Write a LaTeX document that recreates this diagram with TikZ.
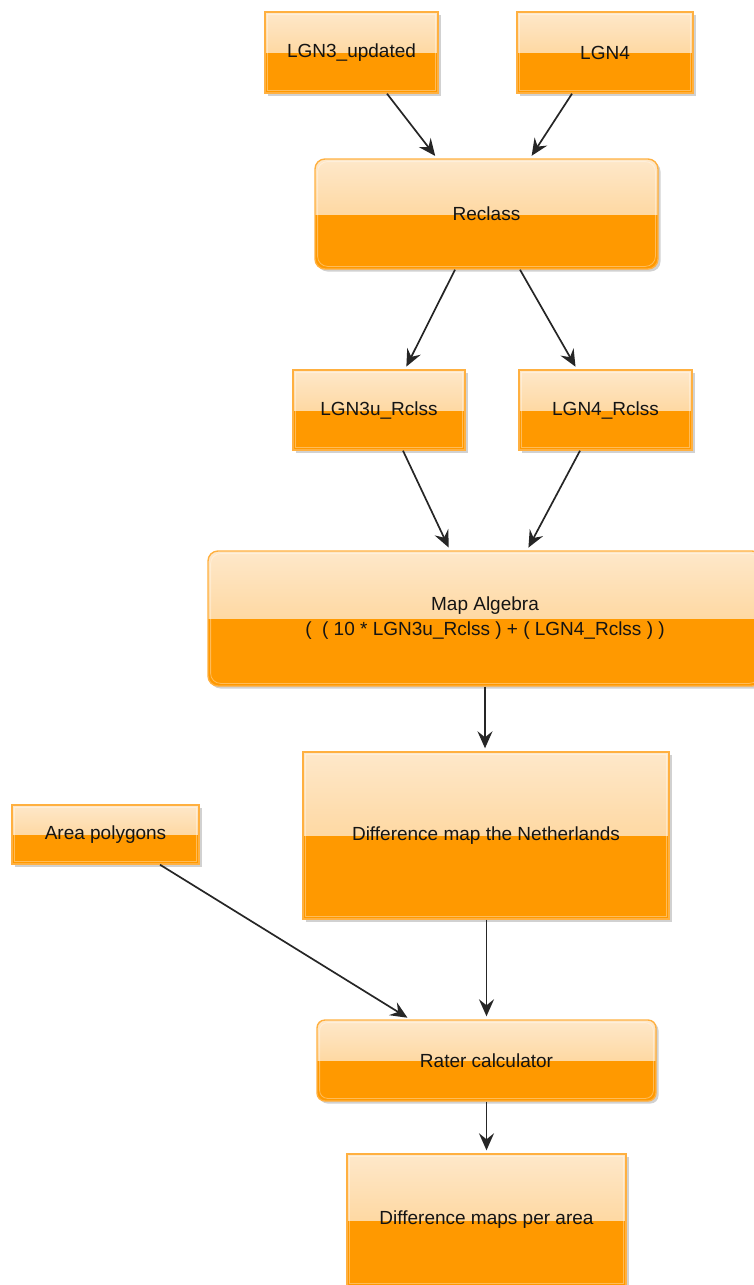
\documentclass[tikz,border=0pt]{standalone}
\usepackage{fontspec}
\setmainfont{Liberation Sans}
\usetikzlibrary{shadows,arrows.meta}
\definecolor{orB}{HTML}{FF9900}
\definecolor{orTop}{HTML}{FEE8CA}
\definecolor{orMid}{HTML}{FDC97C}
\definecolor{orLine}{HTML}{FFB040}
\tikzset{
  box/.style={draw=orLine, line width=1.4pt, fill=orB, inner sep=0pt, align=center,
    font=\fontsize{19}{25}\selectfont, text=black!92,
    drop shadow={shadow xshift=2.5pt, shadow yshift=-2.5pt, opacity=0.3, fill=black!60},
    path picture={
      \shade[sharp corners, top color=orTop, bottom color=orMid]
        (path picture bounding box.north west) rectangle (path picture bounding box.east);
      \draw[white, opacity=.35, line width=.8pt]
        ([shift={(2.6pt,-2.6pt)}]path picture bounding box.north west) rectangle
        ([shift={(-2.6pt,2.6pt)}]path picture bounding box.south east);
    }},
  proc/.style={box, rounded corners=10pt},
  arr/.style={-{Stealth[length=17pt,width=15pt,inset=6pt]}, line width=1.7pt, shorten >=3pt, black!85},
}
\begin{document}
\begin{tikzpicture}[x=1pt,y=-1pt]
\useasboundingbox (0,0) rectangle (753,1285);
\node[box, minimum width=173pt, minimum height=81pt] (lgn3) at (351.5,52.5) {LGN3\_updated};
\node[box, minimum width=176pt, minimum height=81pt] (lgn4) at (605,52.5) {LGN4};
\node[proc, minimum width=343pt, minimum height=110pt] (reclass) at (486.5,214) {Reclass};
\node[box, minimum width=172pt, minimum height=80pt] (lgn3r) at (379,410) {LGN3u\_Rclss};
\node[box, minimum width=173pt, minimum height=80pt] (lgn4r) at (605.5,410) {LGN4\_Rclss};
\node[proc, minimum width=554pt, minimum height=135pt] (mapalg) at (485,618.5)
  {Map Algebra\\(\ \ ( 10 * LGN3u\_Rclss ) + ( LGN4\_Rclss ) )};
\node[box, minimum width=366pt, minimum height=167pt] (diffnl) at (486,835.5) {Difference map the Netherlands};
\node[box, minimum width=187pt, minimum height=59pt] (area) at (105.5,834.5) {Area polygons};
\node[proc, rounded corners=8pt, minimum width=339pt, minimum height=81pt] (rater) at (486.5,1060.5) {Rater calculator};
\node[box, minimum width=279pt, minimum height=132pt] (diffarea) at (486.5,1220) {Difference maps per area};

\draw[arr] ([xshift=35.5pt]lgn3.south) -- ([xshift=-49.5pt]reclass.north);
\draw[arr] ([xshift=-33pt]lgn4.south) -- ([xshift=43.5pt]reclass.north);
\draw[arr] ([xshift=-31.5pt]reclass.south) -- ([xshift=26pt]lgn3r.north);
\draw[arr] ([xshift=33.5pt]reclass.south) -- ([xshift=-28.5pt]lgn4r.north);
\draw[arr] ([xshift=24pt]lgn3r.south) -- ([xshift=-35pt]mapalg.north);
\draw[arr] ([xshift=-25.5pt]lgn4r.south) -- ([xshift=42pt]mapalg.north);
\draw[arr] (mapalg.south) -- (mapalg.south |- diffnl.north);
\draw[arr] ([xshift=54.5pt]area.south) -- ([xshift=-76.5pt]rater.north);
\draw[arr] (diffnl.south -| rater.north) -- (rater.north);
\draw[arr] (rater.south) -- (diffarea.north);
\end{tikzpicture}
\end{document}
